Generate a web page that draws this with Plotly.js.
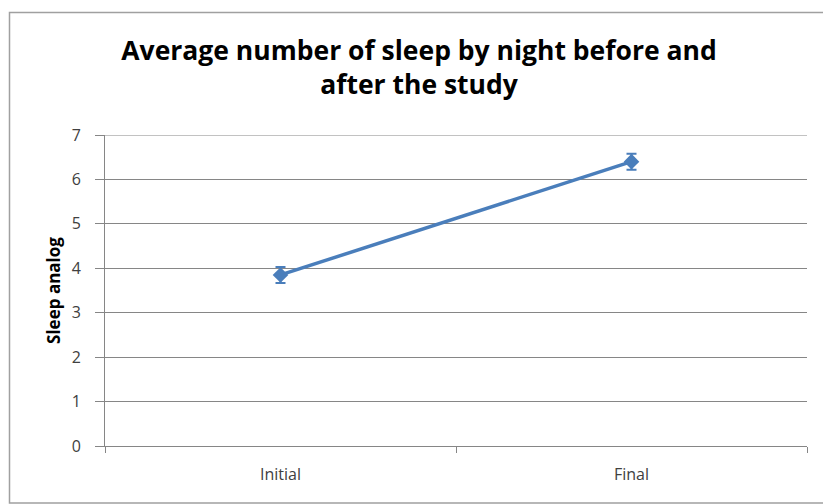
<!DOCTYPE html>
<html>
<head>
<meta charset="utf-8">
<script src="https://cdn.plot.ly/plotly-3.0.1.min.js"></script>
<style>html,body{margin:0;padding:0;background:#fff;}#chart{width:823px;height:504px;}</style>
</head>
<body>
<div id="chart"></div>
<script>
const categories = ["Initial", "Final"];
const sleepMeans = [3.85, 6.40];
const sleepErrors = [0.18, 0.18];
const yTicks = [0, 1, 2, 3, 4, 5, 6, 7];

const blue = "#4A7EBB";

const trace = {
  type: "scatter",
  mode: "lines+markers",
  x: categories,
  y: sleepMeans,
  line: {color: blue, width: 3.5},
  marker: {symbol: "diamond", size: 12, color: blue},
  error_y: {type: "data", array: sleepErrors, visible: true, color: blue, thickness: 2, width: 5},
  hoverinfo: "none"
};

const L = 105, R = 807, T = 135, B = 446;
const pw = R - L, ph = B - T;

const layout = {
  width: 823, height: 504,
  margin: {l: L, r: 823 - R, t: T, b: 504 - B, pad: 0},
  paper_bgcolor: "#fff", plot_bgcolor: "#fff",
  showlegend: false,
  font: {family: "Open Sans, sans-serif", color: "#404040", size: 16},
  title: {
    text: "Average number of sleep by night before and<br>after the study",
    font: {family: "Open Sans, sans-serif", size: 26.5, color: "#000", weight: "bold"},
    x: 419 / 823, xanchor: "center", xref: "container",
    y: 1 - 60 / 504, yanchor: "middle", yref: "container"
  },
  xaxis: {
    type: "category",
    tickson: "boundaries",
    ticks: "outside", ticklen: 6, tickcolor: "#868686", tickwidth: 1,
    showline: true, linecolor: "#868686", linewidth: 1,
    showgrid: false, zeroline: false,
    range: [-0.5, 1.5],
    ticklabelstandoff: 14,
    tickfont: {size: 16, color: "#404040"}
  },
  yaxis: {
    range: [0, 7],
    tickvals: yTicks,
    ticks: "outside", ticklen: 9, tickcolor: "#868686",
    showline: true, linecolor: "#868686", linewidth: 1,
    showgrid: true, gridcolor: "#868686", gridwidth: 1,
    zeroline: false,
    ticklabelstandoff: 11,
    tickfont: {size: 16, color: "#404040"},
    title: {text: "Sleep analog", font: {size: 17, color: "#000", weight: "bold"}, standoff: 6}
  },
  shapes: [{
    type: "rect", xref: "paper", yref: "paper",
    x0: (9.5 - L) / pw, x1: (830 - L) / pw,
    y0: (B - 503) / ph, y1: (B - 12.5) / ph,
    line: {color: "#A0A0A0", width: 1.5}, fillcolor: "rgba(0,0,0,0)", layer: "below"
  }, {
    type: "line", xref: "paper", yref: "y",
    x0: 0, x1: 1, y0: yTicks[yTicks.length - 1], y1: yTicks[yTicks.length - 1],
    line: {color: "#868686", width: 1}, layer: "below"
  }]
};

Plotly.newPlot("chart", [trace], layout, {displayModeBar: false, staticPlot: true});
</script>
</body>
</html>
